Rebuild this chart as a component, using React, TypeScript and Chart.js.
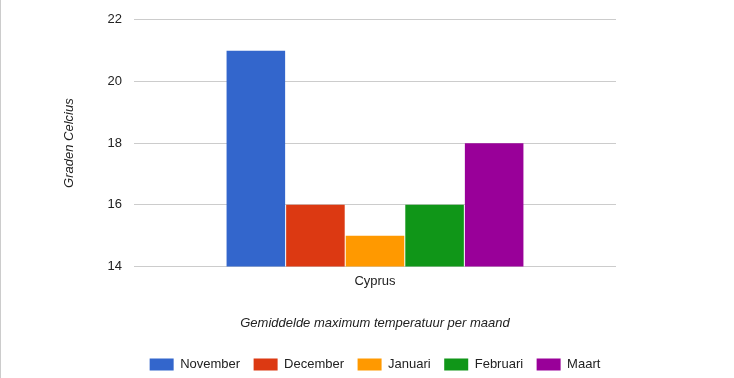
import React, { useEffect, useRef } from "react";
import { Chart, registerables } from "chart.js";

Chart.register(...registerables);

const categories = ["Cyprus"];
const seriesNames = ["November", "December", "Januari", "Februari", "Maart"];
const seriesValues = [[21], [16], [15], [16], [18]];
const seriesColors = ["#3366cc", "#dc3912", "#ff9900", "#109618", "#990099"];
const yTicks = [14, 16, 18, 20, 22];

const FONT = "'Liberation Sans', Arial, sans-serif";

export default function App() {
  const ref = useRef<HTMLCanvasElement | null>(null);

  useEffect(() => {
    document.body.style.margin = "0";
    const ctx = ref.current!;
    const chart = new Chart(ctx, {
      type: "bar",
      data: {
        labels: categories,
        datasets: seriesNames.map((name, i) => ({
          label: name,
          data: seriesValues[i],
          backgroundColor: seriesColors[i],
          borderWidth: 0,
          barPercentage: 0.983,
          categoryPercentage: 0.618,
        })),
      },
      options: {
        animation: false,
        responsive: false,
        maintainAspectRatio: false,
        layout: { padding: { top: 19, right: 0, left: 16, bottom: -3 } },
        plugins: {
          tooltip: { enabled: false },
          legend: {
            position: "bottom",
            labels: {
              boxWidth: 24,
              boxHeight: 12,
              padding: 13.5,
              color: "#222222",
              font: { family: FONT, size: 13 },
            },
          },
        },
        scales: {
          x: {
            grid: { display: false, drawTicks: false },
            border: { display: false },
            ticks: { color: "#222222", font: { family: FONT, size: 13 }, padding: 7 },
            title: {
              display: true,
              text: "Gemiddelde maximum temperatuur per maand",
              color: "#222222",
              font: { family: FONT, size: 13, style: "italic" },
              padding: { top: 0, bottom: 13 },
            },
            afterFit: (scale: any) => {
              scale.height = 78;
            },
          },
          y: {
            min: 14,
            max: 22,
            afterBuildTicks: (scale: any) => {
              scale.ticks = yTicks.map((v) => ({ value: v }));
            },
            grid: { color: "#cccccc", drawTicks: false },
            border: { display: false },
            ticks: { color: "#222222", font: { family: FONT, size: 13 }, padding: 12 },
            title: {
              display: true,
              text: "Graden Celcius",
              color: "#222222",
              font: { family: FONT, size: 13, style: "italic" },
              padding: { top: 46, bottom: 0 },
            },
            afterFit: (scale: any) => {
              scale.width = 118;
            },
          },
          y2: {
            position: "right",
            grid: { display: false, drawTicks: false },
            border: { display: false },
            ticks: { display: false },
            afterFit: (scale: any) => {
              scale.width = 118;
            },
          },
        },
      },
    });
    return () => chart.destroy();
  }, []);

  return (
    <div style={{ position: "relative", width: 734, height: 378, background: "#fff" }}>
      <canvas ref={ref} width={734} height={378} style={{ display: "block" }} />
      <div style={{ position: "absolute", left: 0, top: 0, width: 1, height: 378, background: "#cccccc" }} />
    </div>
  );
}
